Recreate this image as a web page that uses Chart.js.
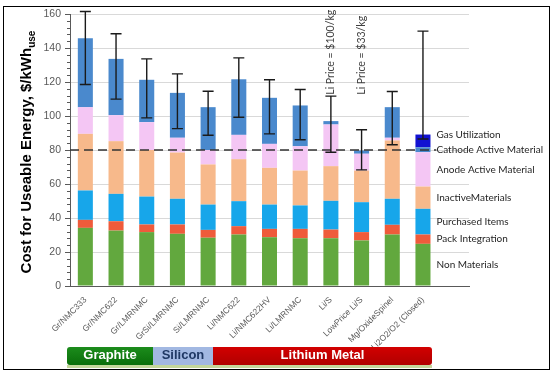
<!DOCTYPE html>
<html>
<head>
<meta charset="utf-8">
<script src="https://cdn.jsdelivr.net/npm/chart.js@4.4.1/dist/chart.umd.min.js"></script>
<style>
body { margin: 0; background: #fff; }
#wrap { position: relative; width: 554px; height: 375px; overflow: hidden; }
#myChart { position: absolute; left: 0; top: 0; }
#frame { position: absolute; left: 3px; top: 6px; width: 545px; height: 362px; border: 1px solid #000; pointer-events: none; }
.band { position: absolute; top: 347px; height: 18px; line-height: 18px; text-align: center; font: bold 13px 'Liberation Sans', Arial, sans-serif; }
#graphite { left: 67px; width: 86px; background: linear-gradient(#1c8c1c, #0a6e0a); color: #fff; border-radius: 3px 0 0 3px; }
#silicon { left: 153px; width: 60px; background: #a2b8e2; color: #1f3864; }
#lithium { left: 213px; width: 219px; background: linear-gradient(#d20000, #b00000); color: #fff; border-radius: 0 3px 3px 0; }
#strip { position: absolute; left: 67px; top: 365px; width: 365px; height: 3px; background: #c4d79b; }
</style>
</head>
<body>
<div id="wrap">
  <canvas id="myChart" width="554" height="375"></canvas>
  <div class="band" id="graphite">Graphite</div>
  <div class="band" id="silicon">Silicon</div>
  <div class="band" id="lithium">Lithium Metal</div>
  <div id="strip"></div>
  <div id="frame"></div>
</div>
<script>
// chart values
const categories = ['Gr/NMC333', 'Gr/NMC622', 'Gr/LMRNMC', 'GrSi/LMRNMC', 'Si/LMRNMC', 'Li/NMC622',
    'Li/NMC622HV', 'Li/LMRNMC', 'Li/S', 'LowPrice Li/S', 'Mg/OxideSpinel', 'Li2O2/O2 (Closed)', ''];
const nonMaterials      = [34.2, 32.6, 31.7, 30.7, 28.4, 30.3, 28.7, 28.1, 28.1, 26.8, 30.3, 24.8];
const packIntegration   = [4.7, 5.5, 4.5, 5.5, 4.6, 4.9, 4.9, 5.5, 5.1, 4.9, 5.7, 5.5];
const purchasedItems    = [17.3, 16.1, 16.4, 15.1, 14.9, 14.7, 14.3, 13.8, 16.9, 17.6, 15.3, 15.1];
const inactiveMaterials = [33.3, 31.0, 27.4, 27.2, 23.6, 24.7, 21.6, 20.5, 20.4, 18.6, 34.3, 13.1];
const anodeActive       = [15.7, 15.3, 16.4, 8.7, 8.5, 14.3, 14.1, 14.3, 24.5, 9.9, 1.6, 20.2];
const cathodeActive     = [40.6, 33.1, 24.9, 26.4, 25.2, 32.7, 27.1, 24.0, 2.0, 1.9, 18.0, 2.9];
const gasUtilization    = [0, 0, 0, 0, 0, 0, 0, 0, 0, 0, 0, 7.5];
const errLow  = [118.5, 109.9, 98.9, 92.6, 88.7, 99.3, 89.5, 86.0, 78.7, 68.3, 83.1, 86.5];
const errHigh = [161.5, 148.4, 133.6, 124.8, 114.6, 134.2, 121.3, 115.6, 111.7, 91.9, 114.4, 149.9];
const yMin = 0, yMax = 160, yStep = 20, yMinorStep = 4;
const targetCost = 80;
const notes = ['Li Price = $100/kg', 'Li Price = $33/kg'];
const noteIndex = [8, 9];
const noteBase = 112.5;

const seriesNames = ['Non Materials', 'Pack Integration', 'Purchased Items', 'InactiveMaterials',
    'Anode Active Material', 'Cathode Active Material', 'Gas Utilization'];
const seriesData = [nonMaterials, packIntegration, purchasedItems, inactiveMaterials,
    anodeActive, cathodeActive, gasUtilization];
const seriesColors = ['#62a83e', '#ef5b3b', '#17a6ea', '#f7b98b', '#f4c6f4', '#4a89cd', '#1212d2'];

const FONT = "'Liberation Sans', Arial, sans-serif";
const SMALL = "Lato, 'Liberation Sans', sans-serif";

const extras = {
    id: 'extras',
    afterDatasetsDraw(chart) {
        const ctx = chart.ctx;
        const x = chart.scales.x, y = chart.scales.y;
        const area = chart.chartArea;
        const step = x.getPixelForValue(1) - x.getPixelForValue(0);

        // minor ticks on the y axis
        ctx.save();
        ctx.strokeStyle = '#595959';
        ctx.lineWidth = 1;
        for (let v = yMin; v <= yMax; v += yMinorStep) {
            if (v % yStep === 0) continue;
            const py = Math.round(y.getPixelForValue(v)) + 0.5;
            ctx.beginPath();
            ctx.moveTo(area.left - 3, py);
            ctx.lineTo(area.left, py);
            ctx.stroke();
        }

        // dashed target line
        const ty = y.getPixelForValue(targetCost);
        ctx.strokeStyle = '#333';
        ctx.lineWidth = 1.5;
        ctx.setLineDash([9, 5]);
        ctx.beginPath();
        ctx.moveTo(area.left, ty);
        ctx.lineTo(x.getPixelForValue(categories.length - 2) + step / 2 - 2, ty);
        ctx.stroke();
        ctx.setLineDash([]);

        // error bars
        ctx.strokeStyle = '#1a1a1a';
        ctx.lineWidth = 1.4;
        errLow.forEach((lo, i) => {
            const px = x.getPixelForValue(i);
            const y1 = y.getPixelForValue(lo), y2 = y.getPixelForValue(errHigh[i]);
            ctx.beginPath();
            ctx.moveTo(px, y1); ctx.lineTo(px, y2);
            ctx.moveTo(px - 5.5, y1); ctx.lineTo(px + 5.5, y1);
            ctx.moveTo(px - 5.5, y2); ctx.lineTo(px + 5.5, y2);
            ctx.stroke();
        });

        // rotated price notes
        ctx.fillStyle = '#404040';
        ctx.font = '10.5px ' + SMALL;
        ctx.textAlign = 'left';
        ctx.textBaseline = 'middle';
        notes.forEach((t, k) => {
            ctx.save();
            ctx.translate(x.getPixelForValue(noteIndex[k]), y.getPixelForValue(noteBase));
            ctx.rotate(-Math.PI / 2);
            ctx.fillText(t, 0, 0);
            ctx.restore();
        });

        // series names beside the last bar
        const last = errLow.length - 1;
        let prev = Infinity;
        ctx.fillStyle = '#262626';
        ctx.font = '10px ' + SMALL;
        seriesNames.forEach((name, i) => {
            const el = chart.getDatasetMeta(i).data[last];
            let my = (el.y + el.base) / 2;
            if (my > prev - 15) my = prev - 15;
            prev = my;
            ctx.fillText(name, el.x + el.width / 2 + 6, my);
        });

        // y axis title with subscript
        ctx.save();
        ctx.translate(27, 152);
        ctx.rotate(-Math.PI / 2);
        ctx.fillStyle = '#000';
        const main = 'Cost for Useable Energy, $/kWh';
        ctx.font = 'bold 15px ' + FONT;
        const w1 = ctx.measureText(main).width;
        ctx.font = 'bold 10px ' + FONT;
        const w2 = ctx.measureText('use').width;
        const start = -(w1 + w2) / 2;
        ctx.font = 'bold 15px ' + FONT;
        ctx.fillText(main, start, 0);
        ctx.font = 'bold 10px ' + FONT;
        ctx.fillText('use', start + w1, 5);
        ctx.restore();

        ctx.restore();
    }
};

new Chart(document.getElementById('myChart'), {
    type: 'bar',
    data: {
        labels: categories,
        datasets: seriesNames.map((name, i) => ({
            label: name,
            data: seriesData[i],
            backgroundColor: seriesColors[i],
            borderWidth: 0,
            barPercentage: 0.49,
            categoryPercentage: 1
        }))
    },
    options: {
        responsive: false,
        animation: false,
        layout: { padding: { top: 14, right: 85, left: 0, bottom: 0 } },
        plugins: { legend: { display: false }, tooltip: { enabled: false } },
        scales: {
            x: {
                stacked: true,
                afterFit: s => { s.height = 89; },
                grid: { display: false, drawTicks: false },
                border: { color: '#595959', width: 1 },
                ticks: {
                    autoSkip: false, minRotation: 45, maxRotation: 45, padding: 9,
                    color: '#595959', font: { family: FONT, size: 8.5 }
                }
            },
            y: {
                stacked: true,
                min: yMin, max: yMax,
                afterFit: s => { s.width = 70; },
                grid: { color: '#d9d9d9', tickColor: '#595959', tickLength: 5 },
                border: { color: '#595959', width: 1 },
                ticks: {
                    stepSize: yStep, padding: 4,
                    color: '#595959', font: { family: FONT, size: 10.5 }
                }
            }
        }
    },
    plugins: [extras]
});
</script>
</body>
</html>
